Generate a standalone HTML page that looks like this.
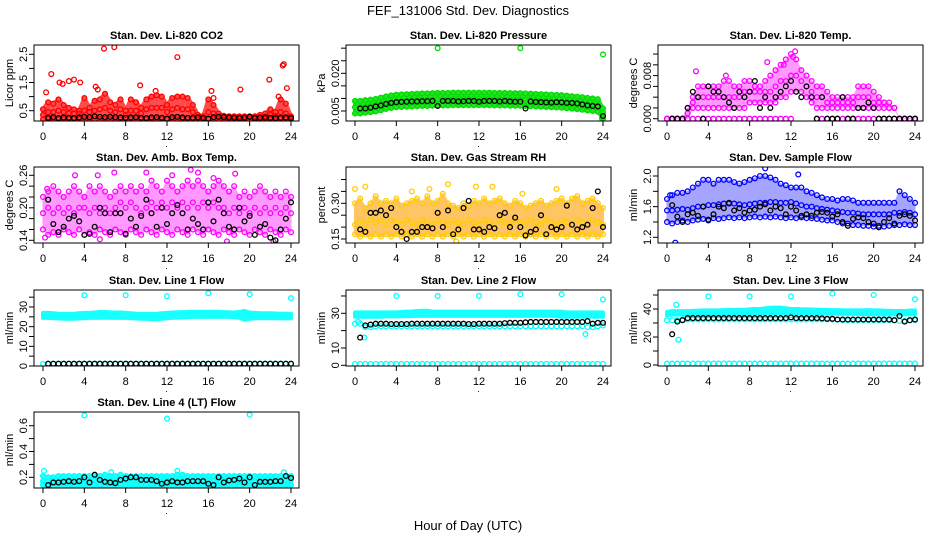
<!DOCTYPE html>
<html><head><meta charset="utf-8">
<style>
html,body{margin:0;padding:0;background:#fff;}
svg{display:block;font-family:"Liberation Sans",Arial,sans-serif;}
</style></head>
<body>
<svg id="chart" width="936" height="540" viewBox="0 0 936 540" xmlns="http://www.w3.org/2000/svg">
<rect width="936" height="540" fill="#fff"/>
<text x="468" y="15" font-size="13" text-anchor="middle">FEF_131006  Std. Dev. Diagnostics</text>
<text x="468" y="530" font-size="13" text-anchor="middle">Hour of Day (UTC)</text>
</svg>
<script>
// ---- data (hours at 0.5 h steps) ----
const hours = Array.from({length:49},(_, i)=>i/2);
const blackHours = hours.slice(1);
const xTicks = [0,4,8,12,16,20,24];

// P1 CO2
const co2Lo  = [.2,.2,.2,.2,.2,.2,.2,.2,.2,.2,.2,.2,.2,.2,.2,.2,.2,.2,.2,.2,.2,.2,.2,.2,.2,.2,.2,.2,.2,.2,.2,.2,.2,.2,.2,.2,.2,.2,.2,.2,.2,.2,.2,.2,.2,.2,.2,.2,.2];
const co2Mid = [.35,.45,.45,.5,.45,.4,.4,.4,.5,.45,.5,.55,.6,.5,.45,.55,.35,.5,.5,.4,.55,.6,.6,.6,.45,.55,.6,.55,.55,.45,.28,.25,.45,.4,.3,.27,.27,.27,.27,.27,.27,.27,.28,.3,.35,.32,.45,.4,.26];
const co2Hi  = [.55,.8,.75,.9,.7,.6,.55,.5,.95,.6,.85,.9,1.1,.8,.7,.9,.5,.9,.8,.6,.9,1.0,1.05,1.0,.7,.95,1.0,1.0,.95,.7,.35,.3,.9,.7,.4,.32,.3,.3,.3,.3,.3,.3,.35,.4,.55,.45,.9,.75,.3];
const co2Black = [.25,.27,.24,.26,.25,.24,.26,.28,.27,.3,.28,.27,.28,.27,.26,.25,.26,.27,.25,.24,.26,.27,.25,.22,.27,.28,.26,.25,.25,.26,.24,.22,.27,.28,.27,.26,.25,.24,.25,.28,.24,.25,.26,.25,.24,.25,.26,.24];
const co2OutH = [0.3,0.8,1.6,1.9,2.5,3,3.6,5.1,5.3,5.9,6.9,9.4,10.9,13,16.3,16.5,19.1,21.9,23.2,23.3,23.6,22.8];
const co2OutV = [1.15,1.8,1.5,1.45,1.55,1.6,1.5,1.35,1.25,2.7,2.75,1.4,1.2,2.4,1.2,0.95,1.25,1.6,2.1,2.15,1.3,1.0];

// P2 Pressure
const presLo = [.004,.004,.0043,.0045,.0048,.0053,.0058,.0062,.0065,.0066,.0067,.0068,.0069,.007,.007,.0071,.0072,.0072,.0072,.0073,.0073,.0073,.0073,.0073,.0073,.0073,.0073,.0072,.0072,.0072,.0071,.0071,.0071,.007,.0069,.0068,.0067,.0066,.0065,.0064,.0063,.0061,.0059,.0057,.0055,.0052,.005,.0047,.002];
const presMid = [.0065,.0065,.0068,.007,.0073,.0078,.0083,.0087,.009,.0091,.0092,.0093,.0094,.0095,.0095,.0096,.0097,.0097,.0097,.0098,.0098,.0098,.0098,.0098,.0098,.0098,.0098,.0097,.0097,.0097,.0096,.0096,.0096,.0095,.0094,.0093,.0092,.0091,.009,.0089,.0088,.0086,.0084,.0082,.008,.0077,.0075,.0072,.0045];
const presHi = [.009,.009,.0093,.0095,.0098,.0103,.0108,.0112,.0115,.0116,.0117,.0118,.0119,.012,.012,.0121,.0122,.0122,.0122,.0123,.0123,.0123,.0123,.0123,.0123,.0123,.0123,.0122,.0122,.0122,.0121,.0121,.0121,.012,.0119,.0118,.0117,.0116,.0115,.0114,.0113,.0111,.0109,.0107,.0105,.0102,.01,.0097,.006];
const presBlack = [.006,.006,.0063,.0068,.0072,.0078,.0082,.0085,.0086,.0087,.0088,.0088,.0089,.0089,.009,.007,.009,.009,.009,.0088,.0089,.009,.009,.0087,.009,.009,.009,.0088,.009,.0088,.0087,.0087,.006,.0088,.0086,.0085,.0084,.0083,.0085,.0084,.0082,.0082,.008,.0076,.0072,.007,.0068,.003];
const presOutH = [8,16,24,23.9];
const presOutV = [.030,.030,.0275,.002];

// P3 Li-820 Temp
const tempZero = [0,0,0,0,0,0,0,0,0,0,0,0,0,0,0,0,0,0,0,0,0,0,0,0,0,null,null,null,null,0,0,0,0,0,0,0,0,0,0,0,0,0,0,0,0,0,0,0,0];
const tempLo  = [0,0,0,0,0,.002,.002,.002,.002,.002,.002,.002,.002,.002,.002,.002,.003,.003,.003,.003,.003,.003,.004,.004,.005,.005,.005,.004,.003,.002,.002,.002,.002,.002,.002,.002,.002,.002,.002,.002,.002,.002,.002,.002,.002,0,0,0,0];
const tempMid = [0,0,0,0,.001,.003,.004,.004,.004,.004,.004,.004,.004,.004,.004,.005,.005,.005,.005,.005,.005,.006,.007,.007,.008,.008,.007,.006,.005,.004,.004,.003,.003,.003,.003,.003,.003,.004,.004,.004,.003,.003,.003,.002,.002,0,0,0,0];
const tempHi  = [0,0,0,0,.002,.004,.006,.006,.006,.006,.006,.007,.007,.006,.006,.007,.007,.006,.006,.007,.008,.009,.010,.011,.012,.011,.009,.008,.007,.006,.006,.005,.004,.004,.004,.004,.004,.006,.006,.006,.005,.004,.003,.003,.002,0,0,0,0];
const tempBlack = [0,0,0,.002,.005,.004,0,.006,.005,.005,.004,.003,.002,.005,.004,.005,.007,.002,.004,.002,.004,.005,.006,.007,.005,.004,.006,.004,0,.004,0,0,0,.004,0,0,.002,.002,.003,.002,0,0,0,0,0,0,0,0];
const tempOutH = [12.4,9.7,11.3,2.8,5.7,12.2];
const tempOutV = [.0125,.0105,.010,.0088,.008,.0115];

// P4 Amb Box Temp
const ambLo = [.16,.15,.155,.15,.16,.155,.15,.16,.15,.155,.15,.16,.155,.15,.16,.155,.15,.16,.155,.15,.16,.155,.15,.16,.155,.15,.16,.155,.15,.16,.155,.15,.16,.155,.15,.16,.155,.15,.16,.155,.15,.16,.155,.15,.16,.155,.15,.16,.155];
const ambMid = [.19,.2,.19,.2,.19,.2,.19,.2,.2,.19,.2,.19,.2,.19,.2,.21,.2,.21,.2,.19,.2,.21,.2,.21,.2,.21,.2,.21,.2,.21,.2,.21,.2,.21,.2,.2,.19,.2,.19,.2,.19,.2,.19,.2,.19,.2,.19,.2,.19];
const ambHi = [.22,.23,.24,.23,.22,.23,.24,.23,.22,.24,.23,.24,.23,.22,.23,.24,.23,.24,.23,.24,.23,.25,.24,.23,.25,.24,.23,.24,.25,.24,.25,.24,.23,.24,.25,.24,.23,.24,.22,.23,.22,.23,.24,.23,.22,.23,.22,.23,.22];
const ambBlack = [.215,.17,.155,.165,.18,.185,.175,.15,.152,.165,.2,.19,.155,.19,.19,.152,.18,.165,.185,.215,.19,.165,.2,.17,.19,.205,.19,.16,.18,.17,.16,.21,.175,.215,.19,.165,.16,.2,.175,.185,.15,.165,.17,.145,.14,.16,.18,.21];
const ambOutH = [0.4,3.1,5.3,6.9,10,12.5,14.3,15,18.6,16.5,0.2,5.5,17.8,22.3];
const ambOutV = [.235,.26,.26,.265,.265,.26,.27,.265,.263,.255,.145,.142,.138,.138];

// P5 Gas Stream RH
const rhLo = [.17,.16,.17,.16,.17,.16,.17,.16,.17,.16,.17,.16,.17,.16,.17,.16,.17,.16,.17,.16,.17,.16,.17,.16,.17,.16,.17,.16,.17,.16,.17,.16,.17,.16,.17,.16,.17,.16,.17,.16,.17,.16,.17,.16,.17,.16,.17,.16,.17];
const rhMid = [.21,.23,.21,.23,.22,.23,.21,.23,.22,.21,.23,.22,.21,.23,.22,.21,.23,.22,.21,.23,.22,.21,.23,.22,.21,.23,.22,.21,.23,.22,.21,.23,.22,.21,.23,.22,.21,.23,.22,.21,.23,.22,.21,.23,.22,.21,.23,.22,.21];
const rhHi = [.3,.32,.28,.3,.33,.3,.31,.3,.32,.29,.3,.31,.32,.3,.33,.3,.31,.34,.3,.29,.28,.3,.29,.31,.3,.32,.3,.31,.32,.3,.29,.31,.3,.28,.29,.3,.31,.29,.3,.31,.32,.3,.32,.33,.3,.31,.32,.3,.28];
const rhBlack = [.19,.18,.26,.26,.27,.25,.28,.2,.18,.15,.18,.18,.2,.2,.195,.26,.2,.27,.17,.19,.28,.31,.19,.19,.18,.2,.195,.25,.26,.2,.24,.2,.165,.18,.19,.25,.17,.2,.19,.2,.29,.21,.19,.2,.21,.28,.35,.2];
const rhOutH = [0,1,5.5,7.2,9,11.7,13.3,19.5,16.2,9.8];
const rhOutV = [.36,.37,.35,.36,.38,.37,.37,.36,.34,.14];

// P6 Sample Flow
const flowLo = [1.4,1.38,1.4,1.42,1.4,1.42,1.43,1.44,1.42,1.45,1.44,1.45,1.46,1.45,1.46,1.45,1.46,1.47,1.46,1.47,1.46,1.47,1.46,1.45,1.46,1.45,1.46,1.45,1.45,1.44,1.43,1.42,1.42,1.4,1.38,1.38,1.36,1.36,1.35,1.35,1.34,1.35,1.34,1.35,1.36,1.36,1.37,1.36,1.36];
const flowMid = [1.55,1.55,1.56,1.57,1.56,1.58,1.6,1.6,1.62,1.62,1.63,1.64,1.64,1.64,1.63,1.62,1.63,1.64,1.65,1.65,1.66,1.66,1.65,1.65,1.66,1.64,1.62,1.6,1.6,1.58,1.57,1.56,1.55,1.54,1.53,1.52,1.52,1.51,1.5,1.5,1.5,1.5,1.5,1.5,1.52,1.52,1.53,1.52,1.5];
const flowHi = [1.7,1.75,1.78,1.78,1.8,1.85,1.9,1.95,1.95,1.9,1.95,1.95,1.95,1.92,1.9,1.92,1.95,1.97,2.0,2.0,1.98,1.95,1.9,1.88,1.85,1.85,1.85,1.8,1.78,1.75,1.72,1.7,1.7,1.68,1.7,1.7,1.68,1.65,1.65,1.65,1.65,1.65,1.65,1.65,1.65,1.8,1.75,1.7,1.65];
const flowBlack = [1.62,1.47,1.4,1.5,1.52,1.48,1.6,1.43,1.5,1.6,1.58,1.65,1.55,1.58,1.52,1.55,1.56,1.6,1.63,1.55,1.6,1.58,1.5,1.6,1.55,1.48,1.5,1.48,1.52,1.53,1.52,1.47,1.5,1.4,1.35,1.44,1.46,1.45,1.4,1.38,1.33,1.4,1.45,1.38,1.48,1.5,1.48,1.42];
const flowOutH = [0.8,9.5,12.7,0.3];
const flowOutV = [1.13,2.1,2.02,1.75];

// P7 Line 1 Flow
const l1Lo = [24.5,24.5,24.3,24.2,24,24,24,24.2,24.3,24.5,24.5,24.5,24.6,24.5,24.5,24.5,24.5,24.3,24.2,24,24,23.8,23.8,24,24.3,24.5,24.6,24.7,24.8,25,25,25,25,25,25,25,25,24.8,24.5,23.5,24,24.3,24.3,24.3,24.3,24.3,24.2,24.2,24.2];
const l1Hi = [27,27,26.8,26.6,26.5,26.5,26.6,26.8,27,27,27.2,27.5,27.5,27.3,27.2,27.2,27,26.8,26.6,26.5,26.5,26.5,26.6,26.8,27,27.2,27.3,27.4,27.5,27.6,27.6,27.6,27.6,27.6,27.5,27.4,27.3,27.2,27.5,28,27.2,27,26.8,26.8,26.8,26.7,26.6,26.6,26.5];
const l1Zero = [1,1,1,1,1,1,1,1,1,1,1,1,1,1,1,1,1,1,1,1,1,1,1,1,1,1,1,1,1,1,1,1,1,1,1,1,1,1,1,1,1,1,1,1,1,1,1,1,1];
const l1Black = [1.2,1.2,1.2,1.2,1.2,1.2,1.2,1.2,1.2,1.2,1.2,1.2,1.2,1.2,1.2,1.2,1.2,1.2,1.2,1.2,1.2,1.2,1.2,1.2,1.2,1.2,1.2,1.2,1.2,1.2,1.2,1.2,1.2,1.2,1.2,1.2,1.2,1.2,1.2,1.2,1.2,1.2,1.2,1.2,1.2,1.2,1.2,1.2];
const l1OutH = [4,8,12,16,20,24];
const l1OutV = [36,36,35.5,37,36.5,34.5];

// P8 Line 2 Flow
const l2Lo = [28,28,28,28,28,28,28.2,28.2,28.2,28.3,28.3,28.4,28.5,28.5,28.5,28.5,28.5,28.5,28.5,28.5,28.5,28.5,28.5,28.5,28.5,28.5,28.5,28.5,28.5,28.5,28.5,28.5,28.5,28.5,28.5,28.5,28.5,28.5,28.5,28.3,28,28,28,28,28,28,28,28,28];
const l2Hi = [30.5,30.5,30.5,30.5,30.5,30.5,30.5,30.5,30.5,30.8,31,31,31.3,31.5,31.5,31,31,31,31,31,31,31,31,31,31,31,31,31,31,31,31,31,31,31,31,31,31,31,31,31,31,30.5,30.5,30.5,30.5,30.5,30.5,30.5,30.5];
const l2Mid = [24,24,22,22,22.5,22.5,22.5,22.5,22.5,22.5,22.5,22.5,22.5,22.5,22.5,22.5,22.5,22.5,22.5,22.5,22.5,22.5,22.5,22.5,22.5,22.5,22.5,22.5,22.5,22.5,22.5,22.5,22.5,22.5,22.5,22.5,22.5,22.5,22.5,22.5,22.5,22.5,22.5,22.5,22.5,22,22,22.5,23];
const l2Zero = [0.8,0.8,0.8,0.8,0.8,0.8,0.8,0.8,0.8,0.8,0.8,0.8,0.8,0.8,0.8,0.8,0.8,0.8,0.8,0.8,0.8,0.8,0.8,0.8,0.8,0.8,0.8,0.8,0.8,0.8,0.8,0.8,0.8,0.8,0.8,0.8,0.8,0.8,0.8,0.8,0.8,0.8,0.8,0.8,0.8,0.8,0.8,0.8,0.8];
const l2Black = [16,23,23.5,24,24,24,23.8,23.8,23.8,23.8,24,24,24,24,24,24,24,24,24,24,24,23.8,23.8,24,24,24,24,24,24.3,24.5,24.5,24.5,24.8,25,25,25,25,25,25,25,25,25,25,25,25.5,24,24.5,24.5];
const l2OutH = [4,8,12,16,20,24,0.3,0.9,22.3];
const l2OutV = [40,40,40,41,41,38,25,16,18];

// P9 Line 3 Flow
const l3Lo = [35.5,36,36,36,36,36,36.2,36.2,36.3,36.3,36.5,36.5,36.5,36.5,36.5,36.5,36.8,37,37,37,37,37,37.2,37,37,37,37,37,37,37,36.8,36.8,36.6,36.6,36.5,36.5,36.5,36.4,36.4,36.3,36.3,36.2,36.2,36.2,36.2,36.2,36.2,36.2,36.2];
const l3Hi = [38,38.5,38.5,38.5,38.5,38.7,38.8,39,39,39,39,39.2,39.3,39.3,39.5,39.5,39.7,40,40,40.5,41,41,41,40.5,40,40,39.8,39.7,39.6,39.5,39.4,39.3,39.2,39.2,39.1,39,39,39,39,39.2,39,39,38.8,38.7,38.6,38.6,38.6,38.8,39];
const l3Mid = [32,32,32,32.5,32.5,32.5,32.5,32.5,32.5,32.5,32.5,32.5,32.5,32.5,32.5,32.5,32.5,32.5,32.5,32.5,32.5,32.5,32.5,32.5,32.5,32.5,32.5,32.5,32.5,32.5,32.5,32.5,32.5,32.5,32,32,32,32,32,32,32,32,32,32,32,31.5,31.5,32,32];
const l3Zero = [1,1,1,1,1,1,1,1,1,1,1,1,1,1,1,1,1,1,1,1,1,1,1,1,1,1,1,1,1,1,1,1,1,1,1,1,1,1,1,1,1,1,1,1,1,1,1,1,1];
const l3Black = [22,31,32,33.5,33.5,33.5,33.5,33.5,33.5,33.5,33.5,33.5,33.5,33.5,33.5,33.5,33.5,33.5,33.5,33.5,33.5,33.5,33.5,34,33.5,33.5,33.5,33.5,33.5,33.3,33,33,32.5,32.5,32.5,32.5,32.5,32.5,32.5,32.5,32.5,32.5,32.5,32,35,31,32,32.5];
const l3OutH = [0.9,4,8,12,16,20,24,1.1];
const l3OutV = [43,49,49,49,51,50,47,18];

// P10 Line 4 (LT) Flow
const l4Lo = [.14,.13,.13,.14,.14,.13,.14,.14,.14,.13,.14,.14,.13,.13,.14,.14,.14,.14,.14,.14,.14,.14,.13,.13,.14,.14,.14,.13,.13,.14,.14,.13,.13,.14,.14,.14,.14,.14,.13,.14,.14,.14,.14,.14,.13,.14,.14,.14,.14];
const l4Mid = [.17,.17,.17,.17,.17,.17,.17,.17,.18,.18,.18,.18,.17,.17,.17,.18,.18,.18,.18,.18,.18,.17,.17,.17,.17,.17,.17,.17,.17,.17,.17,.17,.17,.17,.17,.18,.18,.18,.17,.17,.17,.17,.17,.17,.17,.17,.17,.17,.18];
const l4Hi = [.21,.2,.2,.21,.21,.21,.21,.21,.21,.21,.21,.21,.22,.21,.21,.22,.21,.21,.21,.21,.21,.21,.21,.21,.21,.21,.22,.22,.21,.21,.21,.21,.21,.21,.21,.21,.21,.21,.21,.21,.21,.21,.21,.21,.21,.21,.21,.21,.21];
const l4Black = [.14,.16,.16,.165,.17,.165,.17,.2,.16,.22,.18,.165,.16,.155,.18,.19,.2,.2,.18,.18,.18,.17,.15,.16,.17,.16,.16,.17,.17,.17,.17,.15,.14,.2,.16,.175,.18,.19,.16,.2,.14,.165,.165,.165,.17,.17,.21,.195];
const l4OutH = [0.1,4,12,20,13,6.6,23.3,22];
const l4OutV = [.25,.68,.655,.685,.25,.24,.24,.11];

// ---- layout ----
const NS="http://www.w3.org/2000/svg";
const svg=document.getElementById('chart');
const colL=[34,346,658], rowT=[45,167,290,412], BW=265, BH=76;
function mk(tag,attrs,name,parent){
  const el=document.createElementNS(NS,tag);
  for(const k in attrs) el.setAttribute(k,attrs[k]);
  
  
  (parent||svg).appendChild(el);
  return el;
}
function panel(c,r,title,ylab,yTicks,yLabels,v1,p1,v2,p2){
  const L=colL[c],T=rowT[r];
  const g=mk('g',{},'panel-'+title.toLowerCase().replace(/[^a-z0-9]+/g,'-'));
  const X=h=>L+9+h*248/24;
  const Y=v=>T+p1+(v-v1)*(p2-p1)/(v2-v1);
  const clip='clip'+c+r;
  const cp=mk('clipPath',{id:clip},'clip-region',g);
  mk('rect',{x:L,y:T,width:BW,height:BH},'clip-rect',cp);
  const plot=mk('g',{'clip-path':'url(#'+clip+')'},'plot-area',g);
  mk('text',{x:L+BW/2,y:T-6,'font-size':11,'font-weight':'bold','text-anchor':'middle'},'panel-title',g).textContent=title;
  mk('rect',{x:L,y:T,width:BW,height:BH,fill:'none',stroke:'#000','stroke-width':1},'plot-frame',g);
  xTicks.forEach(t=>{
    mk('line',{x1:X(t),x2:X(t),y1:T+BH,y2:T+BH+5,stroke:'#000'},'x-tick',g);
    mk('text',{x:X(t),y:T+BH+19,'font-size':11,'text-anchor':'middle'},'x-tick-label',g).textContent=t;
  });
  mk('text',{x:L+BW/2,y:T+BH+26,'font-size':9,'text-anchor':'middle'},'x-axis-dot',g).textContent='.';
  yTicks.forEach(t=>{
    mk('line',{x1:L-5,x2:L,y1:Y(t),y2:Y(t),stroke:'#000'},'y-tick',g);
  });
  yLabels.forEach(t=>{
    const y=Y(+t);
    mk('text',{x:L-7,y:y,'font-size':11,'text-anchor':'middle',transform:'rotate(-90 '+(L-7)+' '+y+')'},'y-tick-label',g).textContent=t;
  });
  const yc=T+BH/2;
  mk('text',{x:L-21,y:yc,'font-size':11,'text-anchor':'middle',transform:'rotate(-90 '+(L-21)+' '+yc+')'},'y-axis-title',g).textContent=ylab;
  return {X,Y,plot};
}
function band(P,xsArr,lo,hi,color,op,sw){
  let pts=[];
  for(let i=0;i<xsArr.length;i++) if(hi[i]!=null) pts.push(P.X(xsArr[i])+','+P.Y(hi[i]));
  for(let i=xsArr.length-1;i>=0;i--) if(lo[i]!=null) pts.push(P.X(xsArr[i])+','+P.Y(lo[i]));
  mk('polygon',{points:pts.join(' '),fill:color,opacity:op,stroke:color,'stroke-width':sw==null?4:sw,'stroke-linejoin':'round'},'data-cloud',P.plot);
}
function pts(P,xsArr,vals,color,name,fill){
  for(let i=0;i<vals.length;i++){
    if(vals[i]==null) continue;
    mk('circle',{cx:P.X(xsArr[i]),cy:P.Y(vals[i]),r:2.4,fill:fill||'none',stroke:color,'stroke-width':1.3},name,P.plot);
  }
}
const RED='#ff0000',GRN='#00dd00',MAG='#ff00ff',BLU='#0000ff',CY='#00ffff',BLK='#000';

// P1
let P=panel(0,0,'Stan. Dev. Li-820 CO2','Licor ppm',[0.5,1,1.5,2,2.5],['0.5','1.5','2.5'],0.5,65.7,2.5,9.3);
band(P,hours,co2Lo,co2Hi,RED,0.7);
pts(P,hours,co2Lo,RED,'co2-point');pts(P,hours,co2Mid,RED,'co2-point');pts(P,hours,co2Hi,RED,'co2-point');
pts(P,co2OutH,co2OutV,RED,'co2-outlier');
pts(P,blackHours,co2Black,BLK,'co2-mean-point');
// P2
P=panel(1,0,'Stan. Dev. Li-820 Pressure','kPa',[.005,.01,.015,.02,.025,.03],['0.005','0.020'],.005,66,.020,28.3);
band(P,hours,presLo,presHi,GRN,0.85);
pts(P,hours,presLo,GRN,'pressure-point');pts(P,hours,presMid,GRN,'pressure-point');pts(P,hours,presHi,GRN,'pressure-point');
pts(P,presOutH,presOutV,GRN,'pressure-outlier');
pts(P,blackHours,presBlack,BLK,'pressure-mean-point');
// P3
P=panel(2,0,'Stan. Dev. Li-820 Temp.','degrees C',[0,.002,.004,.006,.008,.01,.012],['0.000','0.008'],0,73.7,.008,30.6);
band(P,hours,tempLo,tempHi,MAG,0.4,1);
pts(P,hours,tempZero,MAG,'temp-point');pts(P,hours,tempLo,MAG,'temp-point');pts(P,hours,tempMid,MAG,'temp-point');pts(P,hours,tempHi,MAG,'temp-point');
pts(P,tempOutH,tempOutV,MAG,'temp-outlier');
pts(P,blackHours,tempBlack,BLK,'temp-mean-point');
// P4
P=panel(0,1,'Stan. Dev. Amb. Box Temp.','degrees C',[.14,.16,.18,.2,.22,.24,.26],['0.14','0.20','0.26'],.14,73.3,.26,8.3);
band(P,hours,ambLo,ambHi,MAG,0.4,1);
pts(P,hours,ambLo,MAG,'amb-point');pts(P,hours,ambMid,MAG,'amb-point');pts(P,hours,ambHi,MAG,'amb-point');
pts(P,ambOutH,ambOutV,MAG,'amb-outlier');
pts(P,blackHours,ambBlack,BLK,'amb-mean-point');
// P5
P=panel(1,1,'Stan. Dev. Gas Stream RH','percent',[.15,.2,.25,.3,.35,.4],['0.15','0.30'],.15,72,.30,36.3);
band(P,hours,rhLo,rhHi,'#ffa000',0.6,2);
pts(P,hours,rhLo,'#ffcc00','rh-point');pts(P,hours,rhMid,'#ffcc00','rh-point');pts(P,hours,rhHi,'#ffcc00','rh-point');
pts(P,rhOutH,rhOutV,'#ffcc00','rh-outlier');
pts(P,blackHours,rhBlack,BLK,'rh-mean-point');
// P6
P=panel(2,1,'Stan. Dev. Sample Flow','ml/min',[1.2,1.4,1.6,1.8,2.0],['1.2','1.6','2.0'],1.2,70.3,2.0,9);
band(P,hours,flowLo,flowHi,BLU,0.35,1);
pts(P,hours,flowLo,BLU,'flow-point');pts(P,hours,flowMid,BLU,'flow-point');pts(P,hours,flowHi,BLU,'flow-point');
pts(P,flowOutH,flowOutV,BLU,'flow-outlier');
pts(P,blackHours,flowBlack,BLK,'flow-mean-point');
// P7
P=panel(0,2,'Stan. Dev. Line 1 Flow','ml/min',[0,5,10,15,20,25,30,35],['0','10','20','30'],0,76,30,17);
band(P,hours,l1Lo,l1Hi,CY,0.9);
pts(P,hours,l1Zero,CY,'line1-point');
pts(P,l1OutH,l1OutV,CY,'line1-outlier');
pts(P,blackHours,l1Black,BLK,'line1-mean-point');
// P8
P=panel(1,2,'Stan. Dev. Line 2 Flow','ml/min',[0,10,20,30,40],['0','10','30'],0,75.3,30,23.3);
band(P,hours,l2Lo,l2Hi,CY,0.9);
pts(P,hours,l2Mid,CY,'line2-point');pts(P,hours,l2Zero,CY,'line2-point');
pts(P,l2OutH,l2OutV,CY,'line2-outlier');
pts(P,blackHours,l2Black,BLK,'line2-mean-point');
// P9
P=panel(2,2,'Stan. Dev. Line 3 Flow','ml/min',[0,10,20,30,40,50],['0','20','40'],0,75,40,19);
band(P,hours,l3Lo,l3Hi,CY,0.9);
pts(P,hours,l3Mid,CY,'line3-point');pts(P,hours,l3Zero,CY,'line3-point');
pts(P,l3OutH,l3OutV,CY,'line3-outlier');
pts(P,blackHours,l3Black,BLK,'line3-mean-point');
// P10
P=panel(0,3,'Stan. Dev. Line 4 (LT) Flow','ml/min',[.2,.3,.4,.5,.6],['0.2','0.4','0.6'],.2,65.3,.6,13.7);
band(P,hours,l4Lo,l4Hi,CY,0.85);
pts(P,hours,l4Lo,CY,'line4-point');pts(P,hours,l4Mid,CY,'line4-point');pts(P,hours,l4Hi,CY,'line4-point');
pts(P,l4OutH,l4OutV,CY,'line4-outlier');
pts(P,blackHours,l4Black,BLK,'line4-mean-point');
</script>
</body></html>
